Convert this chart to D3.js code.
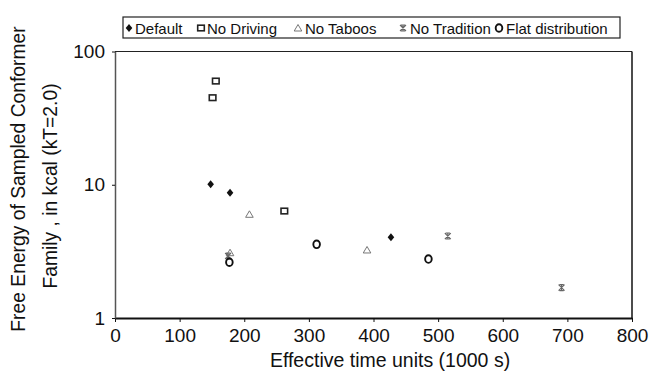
<!DOCTYPE html>
<html><head><meta charset="utf-8">
<script src="https://cdn.jsdelivr.net/npm/d3@7"></script>
<style>body{margin:0;background:#fff}svg{display:block}text{font-family:"Liberation Sans",Arial,sans-serif;fill:#111}</style>
</head><body>
<script>
const seriesNames = ["Default","No Driving","No Taboos","No Tradition","Flat distribution"];
const defaultPts = [[148,10.1],[178,8.7],[427,4.03]];
const noDrivingPts = [[151,45],[156,60],[262,6.35]];
const noTaboosPts = [[208,6.0],[178,3.09],[390,3.24]];
const noTraditionPts = [[175,2.92],[515,4.12],[691,1.69]];
const flatPts = [[177,2.62],[312,3.57],[485,2.77]];
const xTicks = [0,100,200,300,400,500,600,700,800];
const yTicks = [1,10,100];

const W=651,H=372;
const svg=d3.select("body").append("svg").attr("width",W).attr("height",H);
const x=d3.scaleLinear().domain([0,800]).range([115,632]);
const y=d3.scaleLog().domain([1,100]).range([318,51.5]);

// plot frame
svg.append("line").attr("x1",x(0)).attr("x2",x(800)).attr("y1",y(100)).attr("y2",y(100)).attr("stroke","#222").attr("stroke-width",1);
svg.append("line").attr("x1",x(800)).attr("x2",x(800)).attr("y1",y(100)).attr("y2",y(1)).attr("stroke","#111").attr("stroke-width",1.5);

// axes
const xAxis=d3.axisBottom(x).tickValues(xTicks).tickSize(4).tickSizeOuter(0);
const gx=svg.append("g").attr("transform",`translate(0,${y(1)})`).call(xAxis);
gx.select(".domain").attr("stroke","#111").attr("stroke-width",2.2);
gx.selectAll(".tick line").attr("stroke","#111");
gx.selectAll("text").style("font-size","19px").attr("fill","#111").attr("y",24).attr("dy",0);

const yAxis=d3.axisLeft(y).tickValues(yTicks).tickFormat(d3.format("d")).tickSize(3).tickSizeOuter(0).tickPadding(7);
const gy=svg.append("g").attr("transform",`translate(${x(0)},0)`).call(yAxis);
gy.select(".domain").attr("stroke","#555").attr("stroke-width",1.5);
gy.selectAll(".tick line").attr("stroke","#111");
gy.selectAll("text").style("font-size","19px").attr("fill","#111");

// axis titles
svg.append("text").attr("x",390).attr("y",367).attr("text-anchor","middle").style("font-size","19.5px").text("Effective time units (1000 s)");
svg.append("text").attr("transform","translate(25,179) rotate(-90)").attr("text-anchor","middle").style("font-size","19.3px").text("Free Energy of Sampled Conformer");
svg.append("text").attr("transform","translate(57,186) rotate(-90)").attr("text-anchor","middle").style("font-size","19.3px").text("Family , in kcal (kT=2.0)");

// marker drawers
const starPath = s => `M${-s},${-s}L${s},${s}M${s},${-s}L${-s},${s}M0,${-s}L0,${s}M${-s*0.7},${-s}L${s*0.7},${-s}M${-s*0.7},${s}L${s*0.7},${s}`;
function drawMarker(g,type){
  if(type===0){g.append("path").attr("d","M0,-4L3.3,0L0,4L-3.3,0Z").attr("fill","#111");}
  else if(type===1){g.append("rect").attr("x",-3.3).attr("y",-2.8).attr("width",6.6).attr("height",5.6).attr("fill","none").attr("stroke","#222").attr("stroke-width",1.6);}
  else if(type===2){g.append("path").attr("d","M0,-3.5L3.8,3L-3.8,3Z").attr("fill","none").attr("stroke","#777").attr("stroke-width",1);}
  else if(type===3){g.append("path").attr("d",starPath(3)).attr("fill","none").attr("stroke","#666").attr("stroke-width",1.1);}
  else {g.append("ellipse").attr("rx",3.3).attr("ry",3.8).attr("fill","none").attr("stroke","#111").attr("stroke-width",1.9);}
}
const all=[defaultPts,noDrivingPts,noTaboosPts,noTraditionPts,flatPts];
all.forEach((pts,i)=>{
  svg.append("g").selectAll("g").data(pts).join("g")
    .attr("transform",d=>`translate(${x(d[0])},${y(d[1])})`)
    .each(function(){drawMarker(d3.select(this),i);});
});

// legend
const lg=svg.append("g");
lg.append("rect").attr("x",123).attr("y",17).attr("width",497).attr("height",21).attr("fill","#fff").attr("stroke","#222").attr("stroke-width",1.2);
const markerX=[129,201,298,403,499];
const textX=[135,207,305,410,506];
seriesNames.forEach((n,i)=>{
  const g=lg.append("g").attr("transform",`translate(${markerX[i]},28)`);
  drawMarker(g,i);
  lg.append("text").attr("x",textX[i]).attr("y",33.5).style("font-size","15px").text(n);
});
</script>
</body></html>
